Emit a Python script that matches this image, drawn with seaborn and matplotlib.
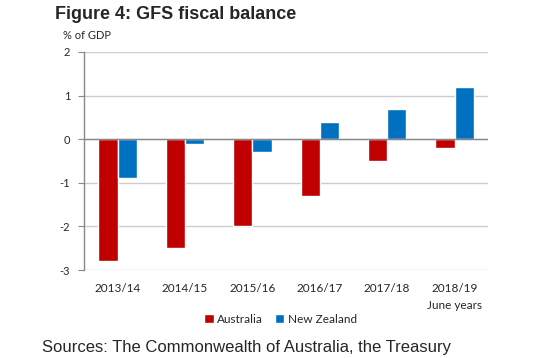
import matplotlib
matplotlib.use("Agg")
import matplotlib.pyplot as plt
import seaborn as sns
import pandas as pd
from matplotlib.patches import Patch

years = ["2013/14", "2014/15", "2015/16", "2016/17", "2017/18", "2018/19"]
australia = [-2.8, -2.5, -2.0, -1.3, -0.5, -0.2]
new_zealand = [-0.9, -0.1, -0.3, 0.4, 0.7, 1.2]
series = ["Australia", "New Zealand"]
colors = ["#C00000", "#0070C0"]
yticks = [-3, -2, -1, 0, 1, 2]

df = pd.DataFrame({
    "year": years * 2,
    "value": australia + new_zealand,
    "series": [series[0]] * len(years) + [series[1]] * len(years),
})

sns.set_style("white")
plt.rcParams["font.family"] = ["Lato", "DejaVu Sans"]

fig = plt.figure(figsize=(5.5, 3.58), dpi=100)
ax = fig.add_axes([0.1527, 0.2458, 0.735, 0.609])

sns.barplot(data=df, x="year", y="value", hue="series", palette=colors,
            width=0.57, ax=ax, legend=False, saturation=1, zorder=3)

ax.set_ylim(-3, 2)
ax.set_yticks(yticks)
ax.set_yticklabels([str(t) for t in yticks], fontsize=8)
ax.set_xlim(-0.5, len(years) - 0.5)
ax.tick_params(axis="x", length=0, labelsize=8.5, pad=9)
ax.tick_params(axis="y", length=4, width=0.8, color="#888888", pad=6, left=True)
ax.set_xlabel("")
ax.set_ylabel("")
ax.yaxis.grid(True, color="#CCCCCC", linewidth=1, zorder=0)
ax.axhline(0, color="#888888", linewidth=1, zorder=4)
for s in ["top", "right", "bottom"]:
    ax.spines[s].set_visible(False)
ax.spines["left"].set_color("#888888")
ax.spines["left"].set_linewidth(1)

fig.text(0.1, 0.96, "Figure 4: GFS fiscal balance", fontsize=13,
         fontweight="bold", family=["Liberation Sans", "DejaVu Sans"], va="center")
fig.text(0.115, 0.902, "% of GDP", fontsize=8, va="center")
fig.text(0.877, 0.148, "June years", fontsize=8.5, va="center", ha="right")

handles = [Patch(facecolor=c, label=s) for c, s in zip(colors, series)]
fig.legend(handles=handles, loc="center", bbox_to_anchor=(0.51, 0.108), ncol=2,
           frameon=False, fontsize=8.5, handlelength=0.8, handleheight=0.8,
           handletextpad=0.3, columnspacing=1.0)

fig.text(0.076, 0.03, "Sources: The Commonwealth of Australia, the Treasury",
         fontsize=12, family=["Liberation Sans", "DejaVu Sans"], va="center")

fig.savefig("out.png", dpi=100)
